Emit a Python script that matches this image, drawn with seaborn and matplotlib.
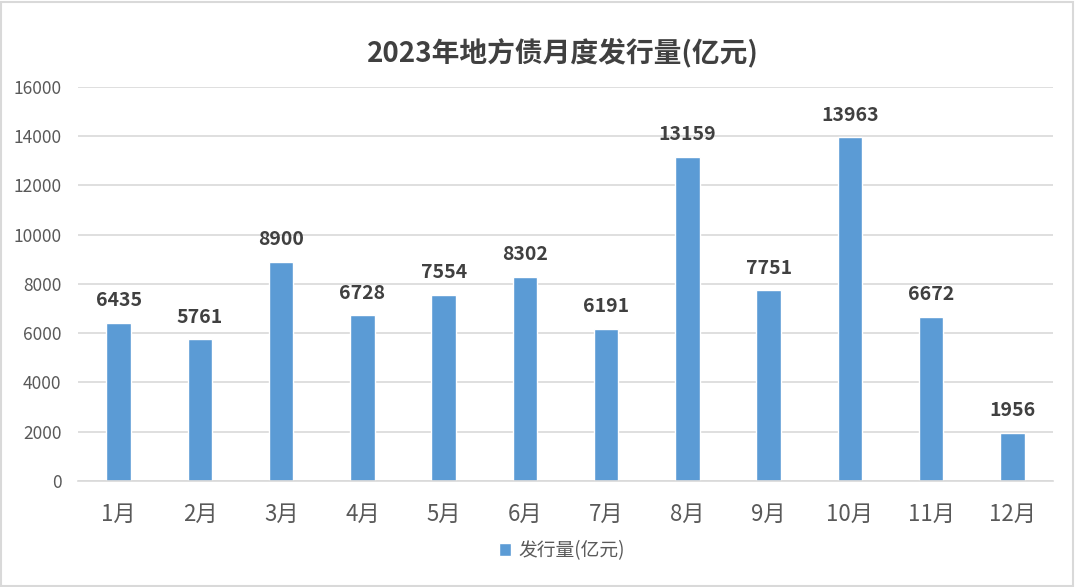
import pandas as pd
import seaborn as sns
import matplotlib
matplotlib.use('Agg')
from matplotlib import pyplot as plt
from matplotlib.patches import Rectangle

months = ['1月', '2月', '3月', '4月', '5月', '6月', '7月', '8月', '9月', '10月', '11月', '12月']
issuance = [6435, 5761, 8900, 6728, 7554, 8302, 6191, 13159, 7751, 13963, 6672, 1956]
series_name = '发行量(亿元)'
title = '2023年地方债月度发行量(亿元)'

df = pd.DataFrame({'month': months, 'value': issuance})

sns.set_style('white')
plt.rcParams['font.family'] = ['Noto Sans CJK SC', 'DejaVu Sans']

fig = plt.figure(figsize=(10.75, 5.87), dpi=100)
ax = fig.add_axes([0.0726, 0.1806, 0.907, 0.6712])

sns.barplot(data=df, x='month', y='value', color='#5B9BD5', width=0.3,
            saturation=1, label=series_name, ax=ax)

ax.bar_label(ax.containers[0], fmt='%d', padding=9, fontsize=14,
             fontweight='bold', color='#404040')

ax.set_ylim(0, 16000)
ax.set_yticks(range(0, 16001, 2000))
ax.set_xlim(-0.5, 11.5)
ax.yaxis.grid(True, color='#D9D9D9', linewidth=1.2)
ax.set_axisbelow(True)
for s in ['left', 'top', 'right']:
    ax.spines[s].set_visible(False)
ax.spines['bottom'].set_color('#D9D9D9')
ax.spines['bottom'].set_linewidth(1.2)
ax.tick_params(axis='both', length=0)
ax.tick_params(axis='y', labelsize=12.5, labelcolor='#595959', pad=12)
ax.tick_params(axis='x', labelsize=16, labelcolor='#595959', pad=16)
ax.set_xlabel('')
ax.set_ylabel('')

fig.suptitle(title, x=0.524, y=0.935, fontsize=20, fontweight='bold', color='#404040')

ax.legend(loc='center', bbox_to_anchor=(0.523, 0.062), bbox_transform=fig.transFigure,
          frameon=False, fontsize=13.5, handlelength=0.65, handleheight=0.65,
          handletextpad=0.4, labelcolor='#595959')

fig.patches.append(Rectangle((0.001, 0.002), 0.997, 0.995, transform=fig.transFigure,
                             fill=False, edgecolor='#D9D9D9', linewidth=1.5))

fig.savefig('out.png', dpi=100)
